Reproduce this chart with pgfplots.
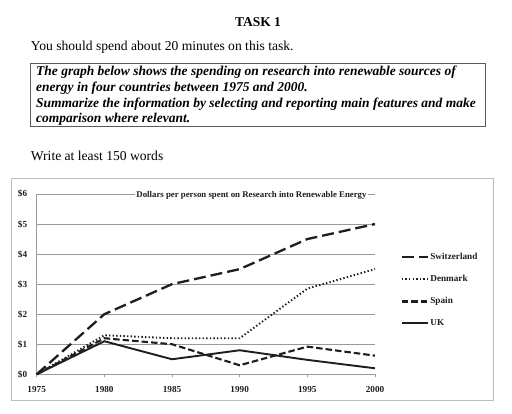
\documentclass[border=0pt]{standalone}
\usepackage{fontspec}
\setmainfont{Liberation Serif}
\usepackage{pgfplots}
\pgfplotsset{compat=1.18}
\definecolor{ink}{HTML}{1E1E1E}
\definecolor{gridc}{HTML}{9A9A9A}
\definecolor{boxc}{HTML}{BDBDBD}
\definecolor{tboxc}{HTML}{5A5A5A}
\begin{document}
\begin{tikzpicture}
\begin{scope}[x=1pt,y=1pt]
\path[use as bounding box,fill=white] (0,0) rectangle (512,414);
% header
\node[anchor=base,inner sep=0,font=\fontsize{13.5}{15}\selectfont\bfseries] at (258,387.3) {TASK 1};
\node[anchor=base west,inner sep=0,font=\fontsize{13.6}{15}\selectfont] at (30.7,363) {You should spend about 20 minutes on this task.};
\draw[tboxc,line width=0.9pt] (30.7,350.7) rectangle (485,287.3);
\begin{scope}[every node/.style={anchor=base west,inner sep=0,font=\fontsize{13.5}{15}\selectfont\bfseries\itshape}]
\node at (36,338) {The graph below shows the spending on research into renewable sources of};
\node at (36,322) {energy in four countries between 1975 and 2000.};
\node at (36,306.7) {Summarize the information by selecting and reporting main features and make};
\node at (36,291.3) {comparison where relevant.};
\end{scope}
\node[anchor=base west,inner sep=0,font=\fontsize{13.6}{15}\selectfont] at (30.7,253) {Write at least 150 words};
% chart frame
\draw[boxc,line width=0.8pt] (11,236) rectangle (493,14);
\end{scope}
\begin{axis}[
  at={(36.7pt,39.7pt)}, anchor=south west,
  scale only axis, width=338.3pt, height=180.3pt,
  xmin=1975, xmax=2000, ymin=0, ymax=6,
  clip=false,
  axis lines*=left,
  axis line style={gridc, line width=0.6pt, -},
  xtick={1975,1980,1985,1990,1995,2000},
  xticklabels={1975,1980,1985,1990,1995,2000},
  ytick={0,1,2,3,4,5,6},
  yticklabels={\$0,\$1,\$2,\$3,\$4,\$5,\$6},
  ymajorgrids, grid style={gridc, line width=0.6pt},
  tick align=outside, major tick length=3pt,
  xtick style={gridc, line width=0.6pt},
  ytick style={draw=none},
  /pgf/number format/assume math mode=true,
  tick label style={font=\fontsize{9.2}{10}\selectfont\bfseries, text=ink},
  yticklabel style={xshift=-3pt},
  xticklabel style={yshift=-5.5pt},
  legend style={at={(axis description cs:1.075,0.68)}, anchor=north west, draw=none, fill=none,
    font=\fontsize{9.2}{10}\selectfont\bfseries, text=ink, row sep=11.2pt, inner sep=0pt,
    nodes={inner sep=1.5pt}},
  legend cell align=left,
  legend image code/.code={\draw[#1] (0pt,0pt) -- (26pt,0pt);},
]
\addplot[ink, line width=2.3pt, dash pattern=on 12pt off 5pt] coordinates {
(1975,0) (1980,2.0) (1985,3.0) (1990,3.5) (1995,4.5) (2000,5.0)};
\addlegendentry{Switzerland}
\addplot[ink, line width=1.9pt, dash pattern=on 1.4pt off 2.2pt] coordinates {
(1975,0) (1980,1.3) (1985,1.2) (1990,1.2) (1995,2.85) (2000,3.5)};
\addlegendentry{Denmark}
\addplot[ink, line width=2.1pt, dash pattern=on 6.5pt off 3pt] coordinates {
(1975,0) (1980,1.2) (1985,1.0) (1990,0.3) (1995,0.92) (2000,0.62)};
\addlegendentry{Spain}
\addplot[ink, line width=1.9pt] coordinates {
(1975,0) (1980,1.1) (1985,0.5) (1990,0.8) (1995,0.48) (2000,0.2)};
\addlegendentry{UK}
\end{axis}
\node[fill=white,inner sep=1pt,font=\fontsize{8.8}{10}\selectfont\bfseries,text=ink] at (251.5pt,219pt) {Dollars per person spent on Research into Renewable Energy};
\end{tikzpicture}
\end{document}
